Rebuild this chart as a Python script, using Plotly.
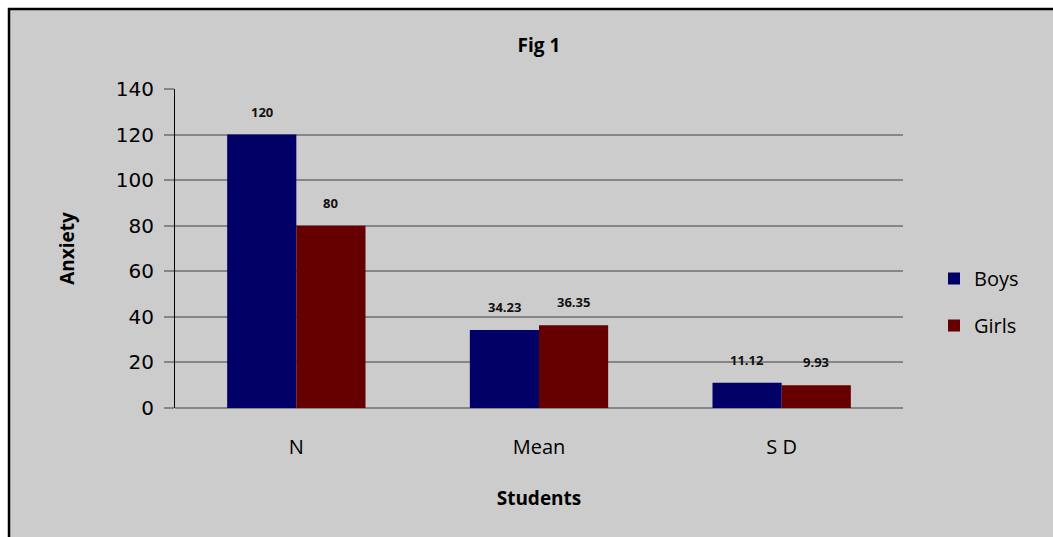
import plotly.graph_objects as go

categories = ["N", "Mean", "S D"]
boys = [120, 34.23, 11.12]
girls = [80, 36.35, 9.93]
boys_labels = ["120", "34.23", "11.12"]
girls_labels = ["80", "36.35", "9.93"]
y_ticks = [0, 20, 40, 60, 80, 100, 120, 140]

W, H = 1053, 537
L, R, T, B = 175, 150, 89, 129
pw, ph = W - L - R, H - T - B

def px(x):
    return (x - L) / pw

def py(y):
    return (H - B - y) / ph

BOYS_C = "#000066"
GIRLS_C = "#660000"
GRID_C = "#858585"
CAL = "Open Sans"

fig = go.Figure()
fig.add_trace(go.Bar(x=categories, y=boys, name="Boys", marker=dict(color=BOYS_C, line=dict(width=0)),
                     legendgroup="b"))
fig.add_trace(go.Bar(x=categories, y=girls, name="Girls", marker=dict(color=GIRLS_C, line=dict(width=0)),
                     legendgroup="g"))

half = pw / 3 * (1 - 0.43) / 4
for cat, v, t in zip(categories, boys, boys_labels):
    fig.add_annotation(x=cat, y=v, text=f"<b>{t}</b>", showarrow=False, xshift=-half, yshift=12,
                       yanchor="bottom", font=dict(family=CAL, size=13, color="#111"))
for cat, v, t in zip(categories, girls, girls_labels):
    fig.add_annotation(x=cat, y=v, text=f"<b>{t}</b>", showarrow=False, xshift=half, yshift=12,
                       yanchor="bottom", font=dict(family=CAL, size=13, color="#111"))

# frame
fig.add_shape(type="rect", xref="paper", yref="paper", x0=px(9), x1=px(1070), y0=py(9), y1=py(560),
              line=dict(color="black", width=2.5), fillcolor="#cccccc", layer="below")

fig.update_layout(
    width=W, height=H,
    margin=dict(l=L, r=R, t=T, b=B, autoexpand=False),
    paper_bgcolor="white",
    plot_bgcolor="rgba(0,0,0,0)",
    barmode="group", bargap=0.43, bargroupgap=0,
    title=dict(text="<b>Fig 1</b>", x=px(539), xanchor="center", xref="paper",
               y=1 - 45 / H, yref="container", yanchor="middle",
               font=dict(family=CAL, size=19, color="black")),
    showlegend=True,
    legend=dict(x=px(934), y=py(259), xanchor="left", yanchor="top", bgcolor="rgba(0,0,0,0)",
                font=dict(family=CAL, size=20, color="black"), tracegroupgap=18,
                itemwidth=30),
    xaxis=dict(showline=False, ticks="", showgrid=False, zeroline=False,
               tickfont=dict(family=CAL, size=20, color="black"), ticklabelstandoff=25,
               title=dict(text="<b>Students</b>", font=dict(family=CAL, size=19, color="black"), standoff=32)),
    yaxis=dict(range=[0, 140], tickvals=y_ticks, showgrid=True, gridcolor=GRID_C, gridwidth=2,
               zeroline=True, zerolinecolor=GRID_C, zerolinewidth=2,
               showline=True, linecolor="black", linewidth=1,
               ticks="outside", ticklen=10, tickcolor=GRID_C, tickwidth=2,
               tickfont=dict(family="DejaVu Sans", size=20, color="black"), ticklabelstandoff=6,
               title=dict(text="<b>Anxiety</b>", font=dict(family=CAL, size=19, color="black"), standoff=36)),
)

fig.write_html("out.html")
